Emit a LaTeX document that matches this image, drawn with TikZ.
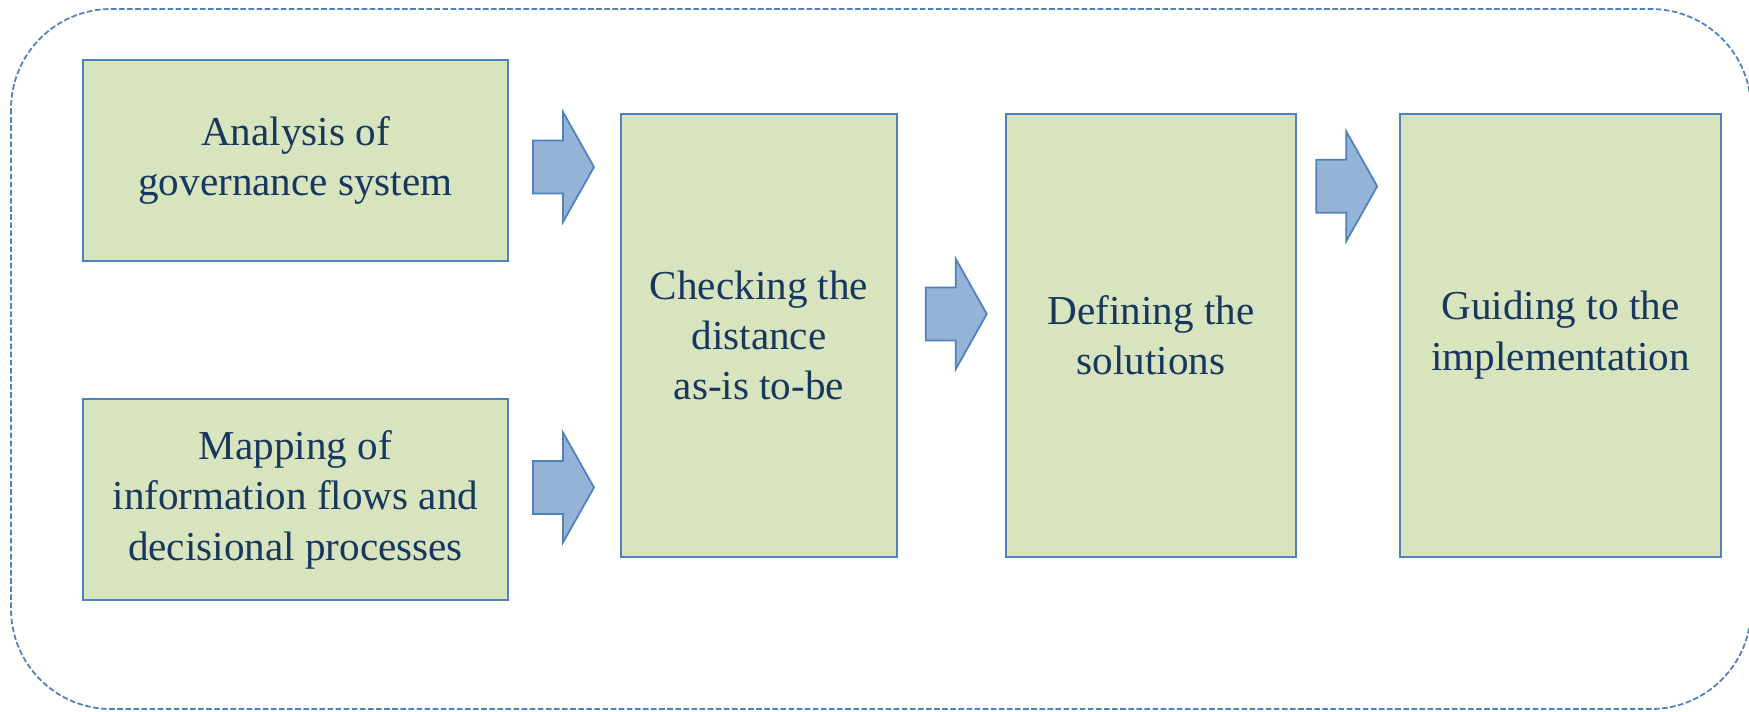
\documentclass[tikz,border=0pt]{standalone}
\usepackage{fontspec}
\setmainfont{Liberation Serif}
\usepackage{tikz}
\usetikzlibrary{arrows,shapes}

\definecolor{boxgreen}{HTML}{D7E4BD}
\definecolor{boxblue}{HTML}{4F81BD}
\definecolor{arrowblue}{HTML}{95B3D7}
\definecolor{textnavy}{HTML}{17375E}

\tikzset{
  stage/.style={draw=boxblue, line width=0.6pt, fill=boxgreen, text=textnavy,
    align=center, inner sep=0pt, font=\fontsize{11.7}{14.3}\selectfont},
  blockarr/.pic={
    \draw[boxblue, line width=0.5pt, fill=arrowblue]
      (0,-26.5) -- (30,-26.5) -- (30,-55) -- (61,0) -- (30,55)
      -- (30,26.5) -- (0,26.5) -- cycle;}
}

\begin{document}
\begin{tikzpicture}[x=0.01cm, y=-0.01cm]
  \useasboundingbox (0,0) rectangle (1749,711);
  \draw[boxblue, line width=0.5pt, dash pattern=on 1.6pt off 0.7pt, rounded corners=1cm]
    (11,9) rectangle (1751,709);
  \node[stage, minimum width=4.24cm, minimum height=2.01cm] (analysis) at (295.5,160.6)
    {Analysis of\\governance system};
  \node[stage, minimum width=4.24cm, minimum height=2.01cm] (mapping) at (295.5,499.7)
    {Mapping of\\information flows and\\decisional processes};
  \node[stage, minimum width=2.755cm, minimum height=4.43cm] (checking) at (759,335.2)
    {Checking the\\distance \\ as-is to-be};
  \node[stage, minimum width=2.90cm, minimum height=4.43cm] (defining) at (1151.1,335.2)
    {Defining the\\solutions};
  \node[stage, minimum width=3.213cm, minimum height=4.43cm] (guiding) at (1560.5,335.2)
    {Guiding to the\\implementation};
  \pic (arrA) at (533,167) {blockarr};
  \pic (arrB) at (533,487.5) {blockarr};
  \pic (arrC) at (925.8,314) {blockarr};
  \pic (arrD) at (1316.2,186.3) {blockarr};
\end{tikzpicture}
\end{document}
